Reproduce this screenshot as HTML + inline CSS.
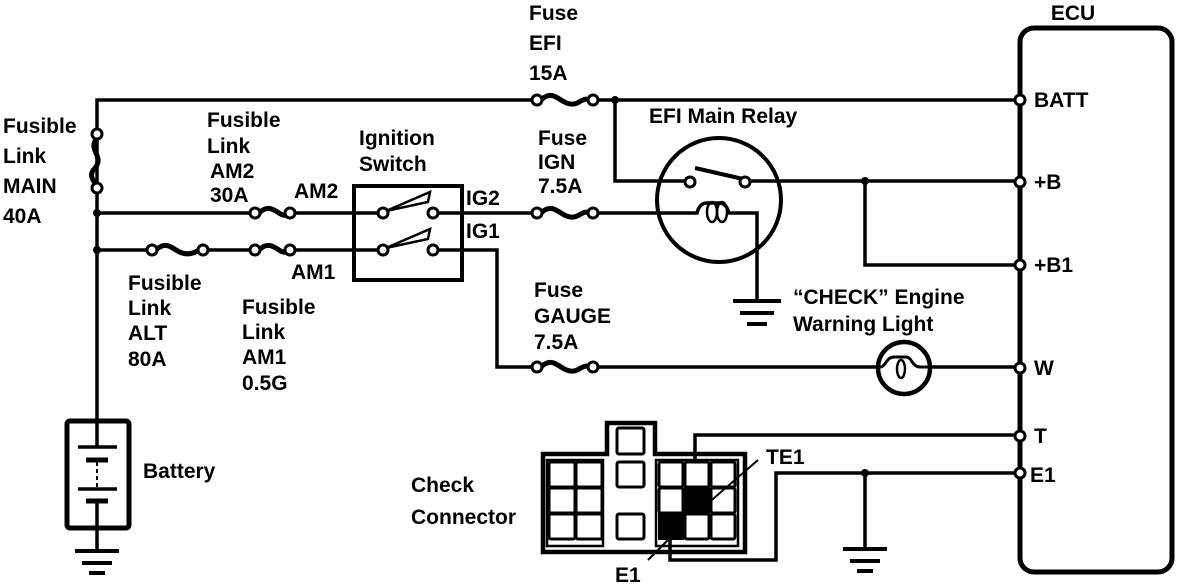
<!DOCTYPE html>
<html><head><style>
html,body{margin:0;padding:0;background:#fff;}
svg{display:block}
text{font-family:"Liberation Sans",sans-serif;font-weight:bold;font-size:21px;fill:#000}
</style></head><body>
<svg width="1200" height="584" viewBox="0 0 1200 584" xmlns="http://www.w3.org/2000/svg">
<g fill="none" stroke="#000" stroke-width="3.5">
<rect x="1020" y="28" width="152" height="544" rx="14" stroke-width="5"/>
<polyline points="97,420 97,100 537,100"/>
<line x1="593" y1="100" x2="1016" y2="100"/>
<path d="M97,138 c-10,12 8,18 -2,30 c-8,8 0,14 2,18" stroke-width="5"/>
<line x1="97" y1="213" x2="251" y2="213"/>
<line x1="294" y1="213" x2="379" y2="213"/>
<line x1="97" y1="250" x2="148" y2="250"/>
<line x1="207" y1="250" x2="251" y2="250"/>
<line x1="294" y1="250" x2="379" y2="250"/>
<rect x="354" y="186" width="108" height="94" stroke-width="4"/>
<path d="M386,211 L430,192 L428,202 Z" stroke-width="2.5"/>
<path d="M386,248 L430,229 L428,239 Z" stroke-width="2.5"/>
<line x1="437" y1="213" x2="537" y2="213"/>
<polyline points="437,250 497,250 497,367 537,367"/>
<circle cx="719" cy="200" r="62" stroke-width="4"/>
<polyline points="615,100 615,181 686,181"/>
<line x1="695" y1="168" x2="743" y2="179" stroke-width="4"/>
<line x1="750" y1="181" x2="1016" y2="181"/>
<polyline points="865,181 865,265 1016,265"/>
<path d="M597,213 L697,213 c2,-8 6,-10 10,-10 l12,0 c6,0 8,4 10,10 L757,213 L757,300"/>
<ellipse cx="712" cy="212" rx="5" ry="10" stroke-width="2.5"/>
<ellipse cx="722" cy="212" rx="5" ry="10" stroke-width="2.5"/>
<line x1="597" y1="367" x2="876" y2="367"/>
<line x1="932" y1="367" x2="1016" y2="367"/>
<circle cx="904" cy="368" r="26" stroke-width="4.5"/>
<path d="M880,367 c6,0 6,-10 14,-10 c6,0 10,0 12,0 c6,0 6,10 14,10 l10,0" stroke-width="3"/>
<ellipse cx="901" cy="369" rx="4" ry="9" stroke-width="2.5"/>
<polyline points="1016,435 695,435 695,462"/>
<polyline points="1016,473 776,473 776,560 670,560 670,540"/>
<line x1="865" y1="473" x2="865" y2="548"/>
<path d="M543,552 L543,454 L607,454 L607,423 L655,423 L655,454 L745,454 L745,552 Z" stroke-width="4.5"/>
<rect x="547" y="460" width="56" height="86" stroke-width="2.5"/>
<rect x="656" y="460" width="82" height="86" stroke-width="2.5"/>
<rect x="617" y="428" width="27" height="26" rx="2" stroke-width="3"/>
</g>
<g fill="none" stroke="#000" stroke-width="5">
<path d="M541,100 c8,-8 14,-4 20,0 c6,4 12,6 18,2 c4,-2 6,-4 10,-2"/>
<path d="M259,213 c8,-8 14,-4 20,0 c6,4 8,2 11,0"/>
<path d="M156,250 c8,-8 14,-4 20,0 c6,4 14,6 23,0"/>
<path d="M259,250 c8,-8 14,-4 20,0 c6,4 8,2 11,0"/>
<path d="M541,213 c8,-8 14,-4 20,0 c6,4 12,6 18,2 c4,-2 6,-4 10,-2"/>
<path d="M541,367 c8,-8 14,-4 20,0 c6,4 12,6 18,2 c4,-2 6,-4 10,-2"/>
</g>
<g fill="none" stroke="#000" stroke-width="3">
<rect x="549" y="462" width="26" height="25" rx="2"/><rect x="576" y="462" width="26" height="25" rx="2"/>
<rect x="549" y="488" width="26" height="25" rx="2"/><rect x="576" y="488" width="26" height="25" rx="2"/>
<rect x="549" y="514" width="26" height="25" rx="2"/><rect x="576" y="514" width="26" height="25" rx="2"/>
<rect x="617" y="462" width="27" height="25" rx="2"/><rect x="617" y="514" width="27" height="25" rx="2"/>
<rect x="659" y="462" width="24" height="25" rx="2"/><rect x="685" y="462" width="24" height="25" rx="2"/><rect x="711" y="462" width="24" height="25" rx="2"/>
<rect x="659" y="488" width="24" height="25" rx="2"/><rect x="711" y="488" width="24" height="25" rx="2"/>
<rect x="685" y="514" width="24" height="25" rx="2"/><rect x="711" y="514" width="24" height="25" rx="2"/>
</g>
<rect x="684" y="487" width="26" height="27" fill="#000"/>
<rect x="658" y="513" width="26" height="27" fill="#000"/>
<g stroke="#000" stroke-width="2">
<line x1="758" y1="460" x2="706" y2="505"/>
<line x1="648" y1="560" x2="674" y2="534"/>
</g>
<g stroke="#000" fill="none">
<rect x="67" y="421" width="62" height="107" rx="3" stroke-width="5"/>
<line x1="97" y1="421" x2="97" y2="446" stroke-width="3.5"/>
<line x1="78" y1="447" x2="117" y2="447" stroke-width="3.5"/>
<line x1="86" y1="460" x2="108" y2="460" stroke-width="5"/>
<line x1="97" y1="462" x2="97" y2="488" stroke-width="2" stroke-dasharray="4,3"/>
<line x1="78" y1="489" x2="117" y2="489" stroke-width="3.5"/>
<line x1="86" y1="501" x2="108" y2="501" stroke-width="5"/>
<line x1="97" y1="503" x2="97" y2="550" stroke-width="3.5"/>
</g>
<g stroke="#000" stroke-width="4">
<line x1="75" y1="551" x2="119" y2="551"/><line x1="82" y1="563" x2="112" y2="563"/><line x1="89" y1="573" x2="105" y2="573"/>
<line x1="733" y1="301" x2="781" y2="301"/><line x1="740" y1="313" x2="774" y2="313"/><line x1="747" y1="324" x2="767" y2="324"/>
<line x1="843" y1="549" x2="887" y2="549"/><line x1="850" y1="561" x2="880" y2="561"/><line x1="857" y1="571" x2="873" y2="571"/>
</g>
<g fill="#000">
<circle cx="97" cy="213" r="4"/><circle cx="97" cy="250" r="4"/>
<circle cx="615" cy="100" r="4"/><circle cx="865" cy="181" r="4"/><circle cx="865" cy="473" r="4"/>
</g>
<g fill="#fff" stroke="#000" stroke-width="3">
<circle cx="97" cy="134" r="5"/><circle cx="97" cy="188" r="5"/>
<circle cx="537" cy="100" r="5"/><circle cx="593" cy="100" r="5"/>
<circle cx="255" cy="213" r="5"/><circle cx="290" cy="213" r="5"/>
<circle cx="152" cy="250" r="5"/><circle cx="203" cy="250" r="5"/>
<circle cx="255" cy="250" r="5"/><circle cx="290" cy="250" r="5"/>
<circle cx="383" cy="213" r="5"/><circle cx="433" cy="213" r="5"/>
<circle cx="383" cy="250" r="5"/><circle cx="433" cy="250" r="5"/>
<circle cx="537" cy="213" r="5"/><circle cx="593" cy="213" r="5"/>
<circle cx="537" cy="367" r="5"/><circle cx="593" cy="367" r="5"/>
<circle cx="690" cy="182" r="5"/><circle cx="745" cy="182" r="5"/>
<circle cx="1020" cy="100" r="5"/><circle cx="1020" cy="182" r="5"/><circle cx="1020" cy="265" r="5"/>
<circle cx="1020" cy="368" r="5"/><circle cx="1020" cy="436" r="5"/><circle cx="1020" cy="473" r="5"/>
</g>
<text x="1073" y="20" text-anchor="middle">ECU</text>
<text x="1034" y="107">BATT</text>
<text x="1034" y="189">+B</text>
<text x="1034" y="272">+B1</text>
<text x="1034" y="375">W</text>
<text x="1034" y="443">T</text>
<text x="1030" y="482">E1</text>
<text x="529" y="20">Fuse</text><text x="529" y="50">EFI</text><text x="529" y="80">15A</text>
<text x="3" y="133">Fusible</text><text x="3" y="163">Link</text><text x="3" y="193">MAIN</text><text x="3" y="223">40A</text>
<text x="207" y="127">Fusible</text><text x="207" y="153">Link</text><text x="210" y="178">AM2</text><text x="210" y="202">30A</text>
<text x="294" y="198">AM2</text>
<text x="291" y="279">AM1</text>
<text x="359" y="145">Ignition</text><text x="359" y="171">Switch</text>
<text x="466" y="205">IG2</text><text x="466" y="238">IG1</text>
<text x="538" y="145">Fuse</text><text x="538" y="169">IGN</text><text x="538" y="193">7.5A</text>
<text x="649" y="123">EFI Main Relay</text>
<text x="128" y="290">Fusible</text><text x="128" y="315">Link</text><text x="128" y="340">ALT</text><text x="128" y="366">80A</text>
<text x="242" y="314">Fusible</text><text x="242" y="339">Link</text><text x="242" y="364">AM1</text><text x="242" y="390">0.5G</text>
<text x="534" y="297">Fuse</text><text x="534" y="323">GAUGE</text><text x="534" y="349">7.5A</text>
<text x="793" y="304">“CHECK” Engine</text><text x="793" y="331">Warning Light</text>
<text x="143" y="478">Battery</text>
<text x="411" y="492">Check</text><text x="411" y="524">Connector</text>
<text x="766" y="464">TE1</text>
<text x="615" y="582">E1</text>
</svg>
</body></html>
